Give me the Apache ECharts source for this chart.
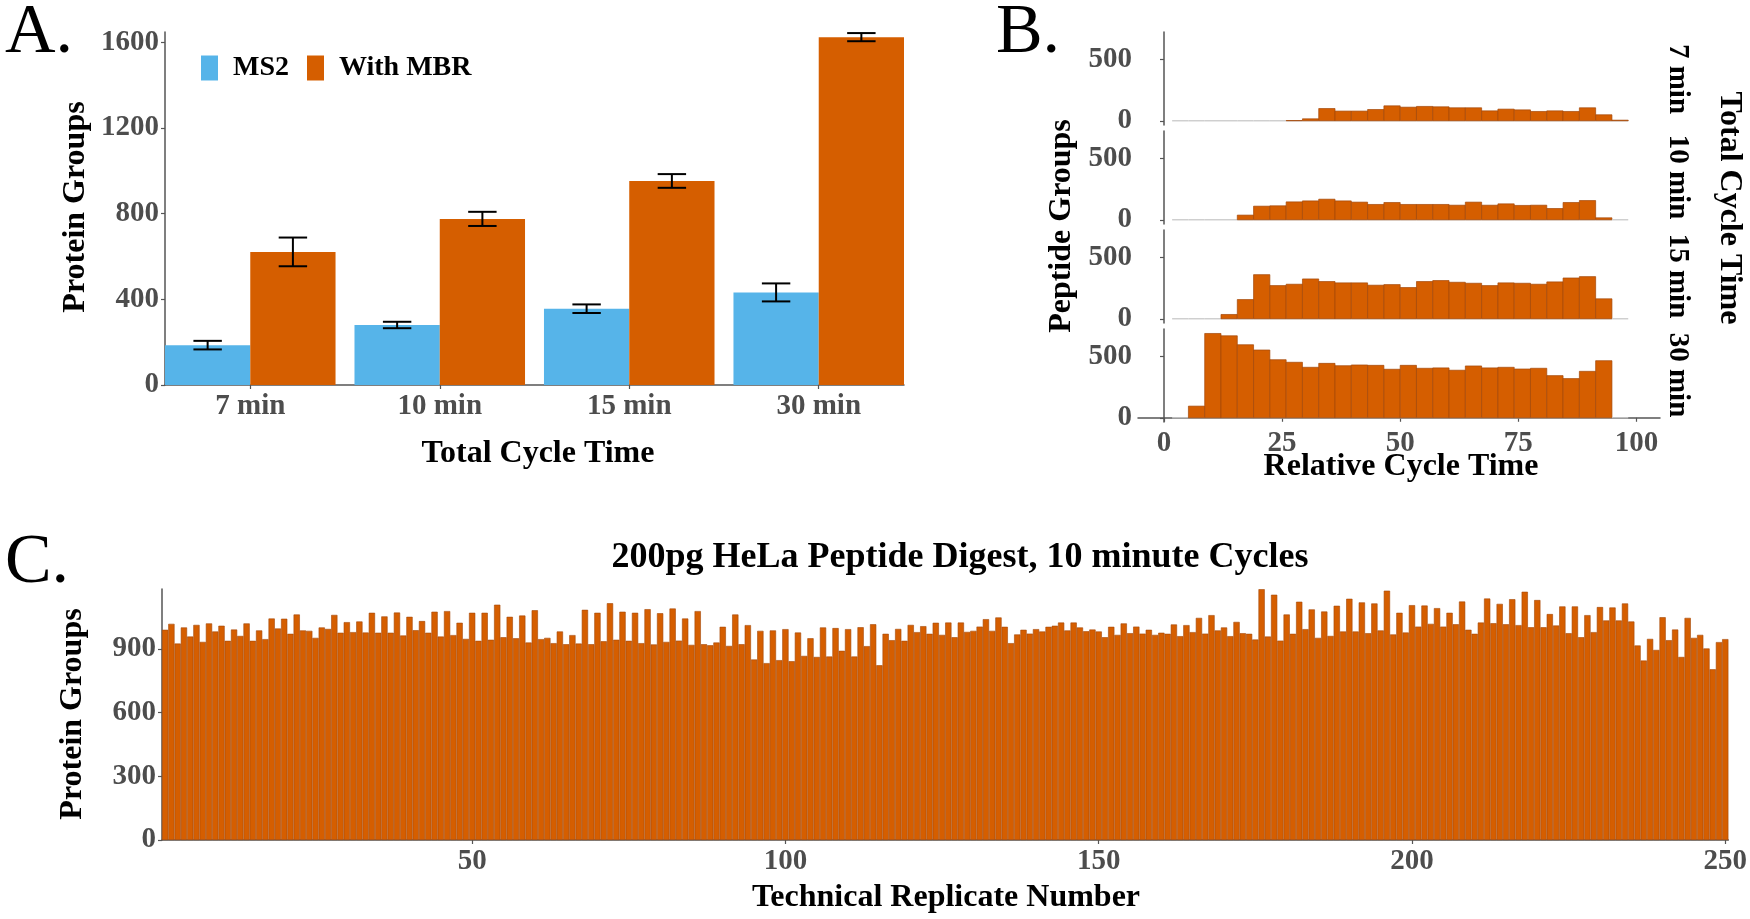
<!DOCTYPE html>
<html><head><meta charset="utf-8">
<script src="https://cdn.jsdelivr.net/npm/echarts@6/dist/echarts.min.js"></script>
<style>html,body{margin:0;padding:0;background:#fff}#c{width:1750px;height:919px}</style>
</head><body><div id="c"></div>
<script>
// ---------- Panel A data ----------
const CATEGORIES = ['7 min', '10 min', '15 min', '30 min'];
const MS2_MEAN = [186, 280, 356, 432];
const MS2_SD = [20, 15, 20, 42];
const MBR_MEAN = [621, 775, 952, 1623];
const MBR_SD = [67, 33, 32, 19];
const A_TICKS = [0, 400, 800, 1200, 1600];

// ---------- Panel B data (histogram counts, bins 1..28 of width 100/29) ----------
const FACETS = ['7 min', '10 min', '15 min', '30 min'];
const HIST_7 = [0,0,0,0,0,0,0,2,16,100,79,79,92,122,111,117,114,106,106,81,95,89,76,81,76,106,49,5];
const HIST_10 = [0,0,0,0,38,111,114,146,154,168,154,144,125,141,125,125,125,119,144,119,130,117,119,92,141,157,16,0];
const HIST_15 = [0,0,0,35,157,360,271,282,325,304,293,293,274,279,255,304,312,298,290,271,293,290,282,301,333,344,163,0];
const HIST_30 = [0,95,688,669,596,553,474,453,412,444,425,431,428,396,428,404,407,388,423,407,412,398,404,344,320,379,466,0];
const B_XTICKS = [0, 25, 50, 75, 100];
const B_YTICKS = [0, 500];

// ---------- Panel C data (protein groups per technical replicate) ----------
const REP_1_50 = [990,1018,925,1001,958,1013,933,1020,982,1009,938,991,961,1020,938,987,946,1043,996,1042,971,1062,987,985,952,1001,994,1060,976,1026,979,1029,977,1070,976,1053,976,1071,963,1051,988,1031,976,1075,958,1078,965,1023,947,1070];
const REP_51_100 = [938,1070,943,1108,955,1051,950,1057,930,1082,946,952,927,982,922,965,925,1084,922,1070,936,1115,943,1075,938,1070,927,1087,921,1068,933,1090,939,1043,919,1078,922,917,930,1004,914,1062,922,1012,850,985,833,987,847,993];
const REP_101_150 = [842,977,867,950,862,1001,864,998,891,993,864,1002,913,1016,823,971,941,994,938,1013,979,1007,971,1023,966,1024,955,1024,980,985,1005,1040,985,1048,1004,927,968,990,972,993,982,1004,1009,1024,987,1024,1001,983,991,982];
const REP_151_200 = [955,1004,966,1020,974,1005,972,990,966,976,971,1015,960,1012,979,1046,972,1059,987,1001,960,1027,974,971,944,1181,958,1155,939,1062,971,1122,993,1086,952,1076,961,1103,982,1136,982,1119,974,1114,987,1174,968,1070,977,1106];
const REP_201_250 = [1005,1104,1018,1092,1005,1070,1016,1123,990,971,1024,1137,1021,1112,1016,1134,1012,1169,1002,1130,1002,1064,1010,1100,974,1100,955,1059,979,1097,1034,1095,1034,1114,1029,916,845,947,895,1049,941,991,862,1046,952,966,902,804,932,946];
const C_YTICKS = [0, 300, 600, 900];

// ---------- styling ----------
const FONT = '"Liberation Serif", "Times New Roman", serif';
const ORANGE = '#D55E00', BLUE = '#56B4E9', EDGE = '#A44808';
const AXIS_COLOR = '#555555', LABEL_COLOR = '#4d4d4d';
const TICK_FS = 29, TITLE_FS = 32;

const REPLICATES = [].concat(REP_1_50, REP_51_100, REP_101_150, REP_151_200, REP_201_250);
const REP_NUMBERS = REPLICATES.map((_, i) => String(i + 1));
const BIN_WIDTH = 100 / 29;
const HISTS = [HIST_7, HIST_10, HIST_15, HIST_30];

const chart = echarts.init(document.getElementById('c'));

const axisLineStyle = { show: true, lineStyle: { color: AXIS_COLOR, width: 1.5 } };
const tickStyle = (vals) => ({ show: true, length: 4, customValues: vals, lineStyle: { color: AXIS_COLOR, width: 1.2 } });
const labelStyle = (vals, extra) => Object.assign({
  show: true, customValues: vals, color: LABEL_COLOR, fontFamily: FONT,
  fontWeight: 'bold', fontSize: TICK_FS, margin: 7, formatter: v => String(v)
}, extra || {});

function renderA(offset) {
  return function (params, api) {
    const x = api.value(0) + offset, v = api.value(1), sd = api.value(2);
    const bl = api.coord([x - 0.225, 0]);
    const tr = api.coord([x + 0.225, v]);
    const lo = api.coord([x, v - sd]);
    const hi = api.coord([x, v + sd]);
    const wl = api.coord([x - 0.075, v])[0], wr = api.coord([x + 0.075, v])[0];
    const ls = { stroke: '#000', lineWidth: 2 };
    return {
      type: 'group', children: [
        { type: 'rect', shape: { x: bl[0], y: tr[1], width: tr[0] - bl[0], height: bl[1] - tr[1] }, style: { fill: api.visual('color') } },
        { type: 'line', shape: { x1: lo[0], y1: lo[1], x2: hi[0], y2: hi[1] }, style: ls, z2: 10 },
        { type: 'line', shape: { x1: wl, y1: lo[1], x2: wr, y2: lo[1] }, style: ls, z2: 10 },
        { type: 'line', shape: { x1: wl, y1: hi[1], x2: wr, y2: hi[1] }, style: ls, z2: 10 }
      ]
    };
  };
}

function renderHist(params, api) {
  const c = api.value(0), v = api.value(1);
  const l = api.coord([c - BIN_WIDTH / 2, 0]);
  const r = api.coord([c + BIN_WIDTH / 2, v]);
  const children = [
    { type: 'line', shape: { x1: l[0], y1: l[1], x2: r[0], y2: l[1] }, style: { stroke: '#c8c8c8', lineWidth: 1.3 } }
  ];
  if (v > 0) {
    children.push({ type: 'rect', shape: { x: l[0], y: r[1], width: r[0] - l[0], height: l[1] - r[1] },
      style: { fill: ORANGE, stroke: EDGE, lineWidth: 0.7 } });
  }
  return { type: 'group', children };
}

// grids
const grids = [{ left: 165, top: 32, width: 739, height: 353 }];
const B_TOPS = [32, 131, 230, 329];
B_TOPS.forEach(t => grids.push({ left: 1138, top: t, width: 522, height: 93 }));
grids.push({ left: 162, top: 589, width: 1570, height: 251 });

const xAxes = [], yAxes = [], series = [];

// Panel A axes
xAxes.push({
  gridIndex: 0, type: 'value', min: 0.55, max: 4.45,
  axisLine: axisLineStyle, axisTick: tickStyle([1, 2, 3, 4]), splitLine: { show: false },
  axisLabel: labelStyle([1, 2, 3, 4], { formatter: v => CATEGORIES[Math.round(v) - 1] || '' })
});
yAxes.push({
  gridIndex: 0, type: 'value', min: 0, max: 1647,
  axisLine: axisLineStyle, axisTick: tickStyle(A_TICKS), splitLine: { show: false },
  axisLabel: labelStyle(A_TICKS, { margin: 6 })
});
series.push({
  name: 'MS2', type: 'custom', xAxisIndex: 0, yAxisIndex: 0, itemStyle: { color: BLUE },
  renderItem: renderA(-0.225), encode: { x: 0, y: 1 },
  data: MS2_MEAN.map((v, i) => [i + 1, v, MS2_SD[i]])
});
series.push({
  name: 'With MBR', type: 'custom', xAxisIndex: 0, yAxisIndex: 0, itemStyle: { color: ORANGE },
  renderItem: renderA(0.225), encode: { x: 0, y: 1 },
  data: MBR_MEAN.map((v, i) => [i + 1, v, MBR_SD[i]])
});

// Panel B axes + series
HISTS.forEach((h, p) => {
  const gi = p + 1;
  const bottom = p === HISTS.length - 1;
  xAxes.push({
    gridIndex: gi, type: 'value', min: -5.5, max: 105, splitLine: { show: false },
    axisLine: bottom ? axisLineStyle : { show: false },
    axisTick: bottom ? tickStyle(B_XTICKS) : { show: false },
    axisLabel: bottom ? labelStyle(B_XTICKS, { margin: 7 }) : { show: false }
  });
  yAxes.push({
    gridIndex: gi, type: 'value', min: -34.5, max: 724.5, splitLine: { show: false },
    axisLine: axisLineStyle, axisTick: tickStyle(B_YTICKS), axisLabel: labelStyle(B_YTICKS, { margin: 6 })
  });
  series.push({
    type: 'custom', xAxisIndex: gi, yAxisIndex: gi, renderItem: renderHist, encode: { x: 0, y: 1 },
    data: h.map((v, k) => [(k + 1) * BIN_WIDTH, v])
  });
});

// Panel C
xAxes.push({
  gridIndex: 5, type: 'category', data: REP_NUMBERS, boundaryGap: true,
  axisLine: axisLineStyle,
  axisTick: { show: true, length: 4, alignWithLabel: true, interval: (i) => (i + 1) % 50 === 0, lineStyle: { color: AXIS_COLOR, width: 1.2 } },
  axisLabel: { show: true, interval: (i) => (i + 1) % 50 === 0, color: LABEL_COLOR, fontFamily: FONT, fontWeight: 'bold', fontSize: TICK_FS, margin: 7 }
});
yAxes.push({
  gridIndex: 5, type: 'value', min: 0, max: 1182, splitLine: { show: false },
  axisLine: axisLineStyle, axisTick: tickStyle(C_YTICKS), axisLabel: labelStyle(C_YTICKS, { margin: 6 })
});
series.push({
  type: 'bar', xAxisIndex: 5, yAxisIndex: 5, data: REPLICATES, barCategoryGap: 0,
  itemStyle: { color: ORANGE, borderColor: EDGE, borderWidth: 0.6 }, silent: true
});

function txt(text, x, y, size, opts) {
  opts = opts || {};
  return {
    type: 'text', x: x, y: y, rotation: opts.rotation || 0, z: 100,
    style: {
      text: text, fill: opts.color || '#000', fontFamily: FONT, fontSize: size,
      fontWeight: opts.weight || 'bold', align: 'center', verticalAlign: 'middle'
    }
  };
}

const graphics = [
  txt('A.', 39, 34, 70, { weight: 'normal' }),
  txt('B.', 1028, 34, 70, { weight: 'normal' }),
  txt('C.', 37, 564, 70, { weight: 'normal' }),
  txt('Protein Groups', 76, 207, TITLE_FS, { rotation: Math.PI / 2 }),
  txt('Total Cycle Time', 538, 454, TITLE_FS),
  txt('Peptide Groups', 1062, 226, TITLE_FS, { rotation: Math.PI / 2 }),
  txt('Relative Cycle Time', 1401, 467, TITLE_FS),
  txt('Total Cycle Time', 1729, 208, TITLE_FS, { rotation: -Math.PI / 2 }),
  txt('200pg HeLa Peptide Digest, 10 minute Cycles', 960, 558, 36),
  txt('Protein Groups', 73, 714, TITLE_FS, { rotation: Math.PI / 2 }),
  txt('Technical Replicate Number', 946, 898, TITLE_FS)
];
const FACET_Y = [79, 177, 276, 375];
FACETS.forEach((f, i) => graphics.push(txt(f, 1677, FACET_Y[i], TICK_FS, { rotation: -Math.PI / 2 })));

chart.setOption({
  animation: false,
  backgroundColor: '#ffffff',
  grid: grids,
  xAxis: xAxes,
  yAxis: yAxes,
  legend: {
    data: ['MS2', 'With MBR'], left: 196, top: 49, icon: 'rect', itemWidth: 17, itemHeight: 25,
    itemGap: 18, selectedMode: false,
    textStyle: { color: '#000', fontFamily: FONT, fontWeight: 'bold', fontSize: 28, padding: [0, 0, 0, 10] }
  },
  series: series,
  graphic: graphics
});
</script>
</body></html>
